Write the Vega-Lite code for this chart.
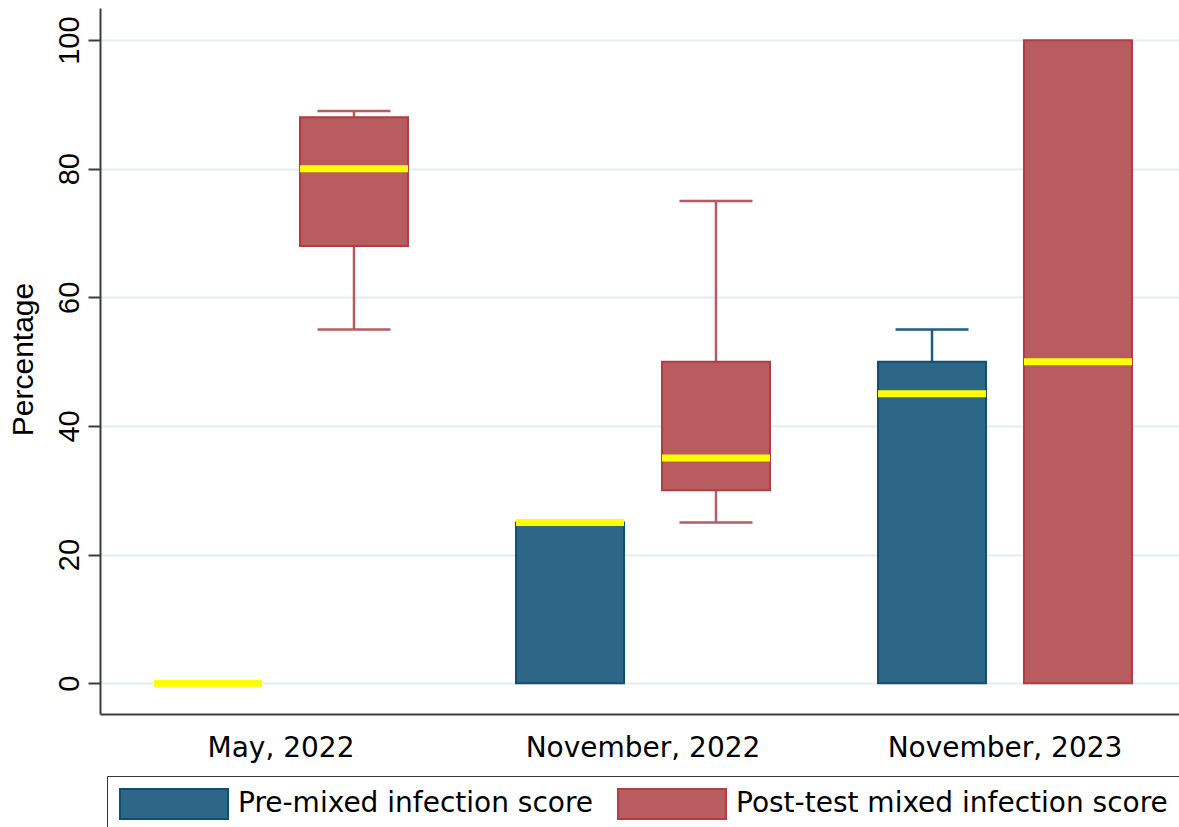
{
  "$schema": "https://vega.github.io/schema/vega-lite/v6.json",
  "autosize": {"type": "none"},
  "width": 1079,
  "height": 706,
  "padding": {"left": 100, "top": 8, "right": 0, "bottom": 113},
  "background": "white",
  "config": {"view": {"stroke": null}},
  "data": {
    "values": [
      {"period": "May, 2022", "series": "Pre-mixed infection score", "low": 0, "q1": 0, "median": 0, "q3": 0, "high": 0},
      {"period": "May, 2022", "series": "Post-test mixed infection score", "low": 55, "q1": 68, "median": 80, "q3": 88, "high": 89},
      {"period": "November, 2022", "series": "Pre-mixed infection score", "low": 0, "q1": 0, "median": 25, "q3": 25, "high": 25},
      {"period": "November, 2022", "series": "Post-test mixed infection score", "low": 25, "q1": 30, "median": 35, "q3": 50, "high": 75},
      {"period": "November, 2023", "series": "Pre-mixed infection score", "low": 0, "q1": 0, "median": 45, "q3": 50, "high": 55},
      {"period": "November, 2023", "series": "Post-test mixed infection score", "low": 0, "q1": 0, "median": 50, "q3": 100, "high": 100}
    ]
  },
  "encoding": {
    "x": {
      "field": "period", "type": "nominal", "sort": null,
      "scale": {"range": [0, 1086], "paddingInner": 0, "paddingOuter": 0},
      "axis": {
        "title": null, "ticks": false, "tickSize": 0, "domain": true, "domainColor": "#3c3c3c", "domainWidth": 2,
        "labelFont": "DejaVu Sans", "labelFontSize": 28, "labelColor": "#000000", "labelAngle": 0, "labelLimit": 0,
        "labelBaseline": "alphabetic", "labelPadding": 42, "grid": false
      }
    },
    "xOffset": {
      "field": "series", "type": "nominal",
      "sort": ["Pre-mixed infection score", "Post-test mixed infection score"],
      "scale": {"paddingInner": 0, "paddingOuter": 0.24}
    }
  },
  "layer": [
    {
      "mark": {"type": "rule", "strokeWidth": 2.5},
      "encoding": {
        "y": {
          "field": "low", "type": "quantitative",
          "scale": {"domain": [-4.8, 105], "nice": false, "zero": false},
          "axis": {
            "values": [0, 20, 40, 60, 80, 100], "title": "Percentage",
            "grid": true, "gridColor": "#e2eef0", "gridWidth": 2,
            "domainColor": "#3c3c3c", "domainWidth": 2, "tickColor": "#3c3c3c", "tickWidth": 2, "tickSize": 12,
            "labelFont": "Liberation Sans", "labelFontSize": 29, "labelColor": "#000000",
            "labelAngle": 270, "labelAlign": "center", "labelBaseline": "bottom", "labelPadding": 4,
            "titleFont": "Liberation Sans", "titleFontSize": 30, "titleFontWeight": "normal", "titleColor": "#000000",
            "titleAngle": 270, "titleAlign": "center", "titleBaseline": "middle", "titleX": -77, "titleY": 351
          }
        },
        "y2": {"field": "high"},
        "stroke": {
          "condition": {"test": "datum.series === 'Pre-mixed infection score'", "value": "#1d5d80"},
          "value": "#b85a5f"
        }
      }
    },
    {
      "transform": [{"filter": "datum.high > datum.q3"}],
      "mark": {"type": "tick", "size": 73, "thickness": 2.5, "opacity": 1},
      "encoding": {
        "y": {"field": "high", "type": "quantitative"},
        "color": {
          "condition": {"test": "datum.series === 'Pre-mixed infection score'", "value": "#1d5d80"},
          "value": "#b85a5f"
        }
      }
    },
    {
      "transform": [{"filter": "datum.low < datum.q1"}],
      "mark": {"type": "tick", "size": 73, "thickness": 2.5, "opacity": 1},
      "encoding": {
        "y": {"field": "low", "type": "quantitative"},
        "color": {
          "condition": {"test": "datum.series === 'Pre-mixed infection score'", "value": "#1d5d80"},
          "value": "#b85a5f"
        }
      }
    },
    {
      "transform": [{"filter": "datum.q3 > datum.q1"}],
      "mark": {"type": "bar", "size": 108, "strokeWidth": 2, "opacity": 1},
      "encoding": {
        "y": {"field": "q1", "type": "quantitative"},
        "y2": {"field": "q3"},
        "fill": {
          "field": "series", "type": "nominal",
          "sort": ["Pre-mixed infection score", "Post-test mixed infection score"],
          "scale": {"domain": ["Pre-mixed infection score", "Post-test mixed infection score"], "range": ["#2c6787", "#b85c60"]},
          "legend": {
            "orient": "none", "legendX": 7, "legendY": 768, "direction": "horizontal", "title": null,
            "padding": 12, "strokeColor": "#3a3a3a", "fillColor": "#ffffff",
            "symbolType": "M-1,-1H6.2V1H-1Z", "symbolSize": 900, "symbolStrokeWidth": 2, "symbolOpacity": 1,
            "labelFont": "DejaVu Sans", "labelFontSize": 28, "labelColor": "#000000", "labelOffset": 87, "labelLimit": 700,
            "columnPadding": 20
          }
        },
        "stroke": {
          "field": "series", "type": "nominal",
          "sort": ["Pre-mixed infection score", "Post-test mixed infection score"],
          "scale": {"domain": ["Pre-mixed infection score", "Post-test mixed infection score"], "range": ["#0f4f73", "#b23c43"]}
        }
      }
    },
    {
      "mark": {"type": "tick", "size": 108, "thickness": 7, "color": "#ffff00", "opacity": 1},
      "encoding": {
        "y": {"field": "median", "type": "quantitative"}
      }
    }
  ]
}
